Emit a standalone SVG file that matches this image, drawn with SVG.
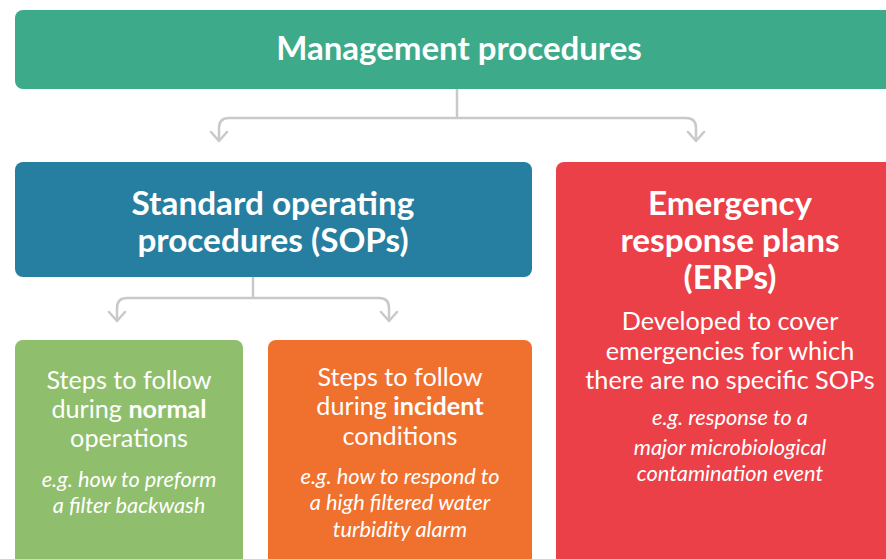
<svg xmlns="http://www.w3.org/2000/svg" width="886" height="559" viewBox="0 0 886 559">
<style>
.t{font-family:Lato,"Open Sans","Liberation Sans",sans-serif;fill:#fff;text-anchor:middle}
.h{font-weight:700;font-size:33.3px}
.b{font-size:25.2px}
.i{font-style:italic;font-size:21.8px}
.c{fill:none;stroke:#c9c9c9;stroke-width:2.5;stroke-linecap:round;stroke-linejoin:round}
</style>
<rect width="886" height="559" fill="#fff"/>
<g id="connectors">
<path class="c" d="M457 89V118M457 118H229Q219 118 219 128V140M457 118H686Q696 118 696 128V140"/>
<path class="c" d="M211 132L219 141L227 132M688 132L696 141L704 132"/>
<path class="c" d="M253 277V298M253 298H127Q117 298 117 308V320M253 298H379Q389 298 389 308V320"/>
<path class="c" d="M109 312L117 321L125 312M381 312L389 321L397 312"/>
</g>
<g id="management">
<rect x="15" y="10" width="890" height="79" rx="8" fill="#3DAA8A"/>
<text class="t h" x="459" y="60" style="font-size:33px">Management procedures</text>
</g>
<g id="sops">
<rect x="15" y="162" width="517" height="115" rx="8" fill="#267EA0"/>
<text class="t h" x="273" y="215">Standard operating</text>
<text class="t h" x="273" y="252">procedures (SOPs)</text>
</g>
<g id="erps">
<rect x="556" y="162" width="350" height="410" rx="8" fill="#EC4048"/>
<text class="t h" x="730" y="215">Emergency</text>
<text class="t h" x="730" y="252">response plans</text>
<text class="t h" x="730" y="289">(ERPs)</text>
<text class="t b" x="730" y="330">Developed to cover</text>
<text class="t b" x="730" y="360">emergencies for which</text>
<text class="t b" x="730" y="389">there are no specific SOPs</text>
<text class="t i" x="730" y="425">e.g. response to a</text>
<text class="t i" x="730" y="455">major microbiological</text>
<text class="t i" x="730" y="481">contamination event</text>
</g>
<g id="normal">
<rect x="15" y="340" width="228" height="232" rx="8" fill="#8FBE6C"/>
<text class="t b" x="129" y="389">Steps to follow</text>
<text class="t b" x="129" y="418">during <tspan font-weight="700">normal</tspan></text>
<text class="t b" x="129" y="447">operations</text>
<text class="t i" x="129" y="487">e.g. how to preform</text>
<text class="t i" x="129" y="513">a filter backwash</text>
</g>
<g id="incident">
<rect x="268" y="340" width="264" height="232" rx="8" fill="#F0702E"/>
<text class="t b" x="400" y="386">Steps to follow</text>
<text class="t b" x="400" y="415">during <tspan font-weight="700">incident</tspan></text>
<text class="t b" x="400" y="445">conditions</text>
<text class="t i" x="400" y="484">e.g. how to respond to</text>
<text class="t i" x="400" y="510">a high filtered water</text>
<text class="t i" x="400" y="537">turbidity alarm</text>
</g>
</svg>
